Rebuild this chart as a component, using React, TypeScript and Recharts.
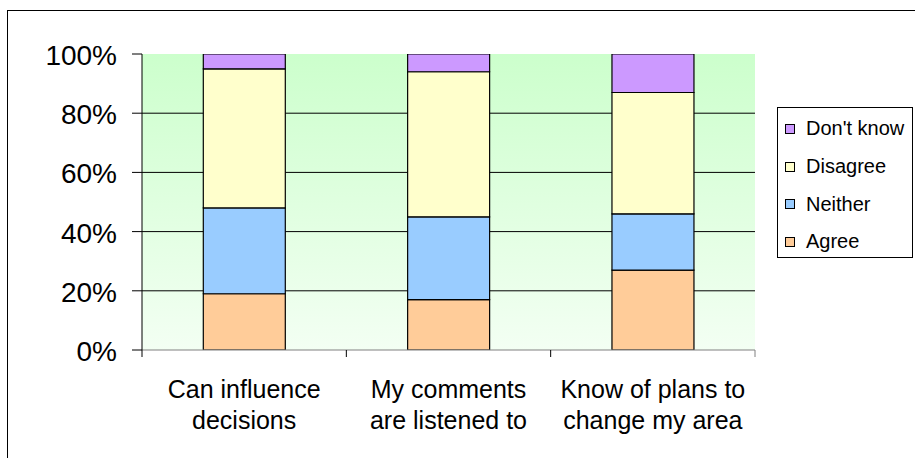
import React from 'react';
import { BarChart, Bar, XAxis, YAxis, CartesianGrid, Legend } from 'recharts';

const categories = [
  'Can influence decisions',
  'My comments are listened to',
  'Know of plans to change my area',
];
const categoryLines = [
  ['Can influence', 'decisions'],
  ['My comments', 'are listened to'],
  ['Know of plans to', 'change my area'],
];
const agree = [19, 17, 27];
const neither = [29, 28, 19];
const disagree = [47, 49, 41];
const dontKnow = [5, 6, 13];
const yTicks = [0, 20, 40, 60, 80, 100];
const gridValues = [20, 40, 60, 80];
const seriesNames = ['Agree', 'Neither', 'Disagree', "Don't know"];
const seriesColors = ['#FFCC99', '#99CCFF', '#FFFFCC', '#CC99FF'];
const seriesValues = [agree, neither, disagree, dontKnow];

const data = categories.map((name, i) => {
  const row: any = { name };
  seriesNames.forEach((s, k) => {
    row[s] = seriesValues[k][i];
  });
  return row;
});

const FONT = '"Liberation Sans", Arial, Helvetica, sans-serif';

const XTick = (props: any) => {
  const { x, y, payload } = props;
  const idx = categories.indexOf(payload.value);
  const lines = categoryLines[idx] || [payload.value];
  const half = payload.offset ? payload.offset : 102.2;
  const isLast = idx === categories.length - 1;
  return (
    <g>
      <line x1={x - half} x2={x - half} y1={y} y2={y + 7} stroke="#000" strokeWidth={1} />
      {isLast && <line x1={x + half} x2={x + half} y1={y} y2={y + 7} stroke="#808080" strokeWidth={1} />}
      <text x={x} y={y} textAnchor="middle" fontSize={25} fontFamily={FONT} fill="#000">
        {lines.map((l, i) => (
          <tspan key={i} x={x} y={y + 48 + i * 31}>
            {l}
          </tspan>
        ))}
      </text>
    </g>
  );
};

const YTick = (props: any) => {
  const { x, y, payload } = props;
  return (
    <text x={x} y={y} dy={11} textAnchor="end" fontSize={28} fontFamily={FONT} fill="#000">
      {payload.value}%
    </text>
  );
};

const renderLegend = (props: any) => {
  const items = [...(props.payload || [])].sort(
    (a: any, b: any) => seriesNames.indexOf(b.value) - seriesNames.indexOf(a.value)
  );
  return (
    <div
      style={{
        border: '1px solid #000',
        background: '#fff',
        width: 136,
        height: 151,
        boxSizing: 'border-box',
        paddingTop: 2,
        paddingLeft: 7,
        fontFamily: FONT,
      }}
    >
      {items.map((it: any) => (
        <div key={it.value} style={{ display: 'flex', alignItems: 'center', height: 37.7 }}>
          <span
            style={{
              display: 'inline-block',
              width: 10,
              height: 10,
              boxSizing: 'border-box',
              border: '1px solid #000',
              background: it.color,
              marginRight: 11,
            }}
          />
          <span style={{ fontSize: 20, color: '#000', lineHeight: '23px' }}>{it.value}</span>
        </div>
      ))}
    </div>
  );
};

export default function App() {
  return (
    <div style={{ position: 'absolute', left: 0, top: 0, width: 915, height: 458, overflow: 'hidden', background: '#fff' }}>
      <div
        style={{
          position: 'absolute',
          left: 7,
          top: 10,
          width: 930,
          height: 470,
          border: '1px solid #000',
          boxSizing: 'border-box',
        }}
      />
      <div style={{ position: 'absolute', left: 0, top: 0 }}>
        <BarChart
          width={915}
          height={458}
          data={data}
          margin={{ top: 54, right: 160, bottom: 48, left: 0 }}
          barCategoryGap="30%"
        >
          <defs>
            <linearGradient id="bgGrad" x1="0" y1="0" x2="0" y2="1">
              <stop offset="0%" stopColor="#CCFFCC" />
              <stop offset="100%" stopColor="#F3FFF3" />
            </linearGradient>
          </defs>
          <CartesianGrid
            fill="url(#bgGrad)"
            stroke="#000"
            strokeWidth={1}
            vertical={false}
            horizontalValues={gridValues}
          />
          <XAxis
            dataKey="name"
            height={60}
            tick={<XTick />}
            tickLine={false}
            tickSize={0}
            tickMargin={0}
            interval={0}
            axisLine={{ stroke: '#808080', strokeWidth: 1 }}
          />
          <XAxis
            xAxisId="top"
            dataKey="name"
            orientation="top"
            height={0}
            tick={false}
            tickLine={false}
            axisLine={{ stroke: '#808080', strokeWidth: 1.5 }}
          />
          <YAxis
            width={142}
            domain={[0, 100]}
            ticks={yTicks}
            interval={0}
            tick={<YTick />}
            tickSize={10}
            tickMargin={15}
            tickLine={{ stroke: '#000', strokeWidth: 1 }}
            axisLine={{ stroke: '#000', strokeWidth: 1 }}
            allowDataOverflow
          />
          <YAxis
            yAxisId="right"
            orientation="right"
            width={0}
            domain={[0, 100]}
            tick={false}
            tickLine={false}
            axisLine={{ stroke: '#808080', strokeWidth: 1.5 }}
          />
          {seriesNames.map((s, k) => (
            <Bar
              key={s}
              dataKey={s}
              stackId="a"
              fill={seriesColors[k]}
              stroke="#000"
              strokeWidth={1.2}
              isAnimationActive={false}
            />
          ))}
          <Legend
            layout="vertical"
            align="center"
            verticalAlign="middle"
            itemSorter={null}
            content={renderLegend}
            wrapperStyle={{ left: 777, top: 107, width: 136, height: 151 }}
          />
        </BarChart>
      </div>
    </div>
  );
}
